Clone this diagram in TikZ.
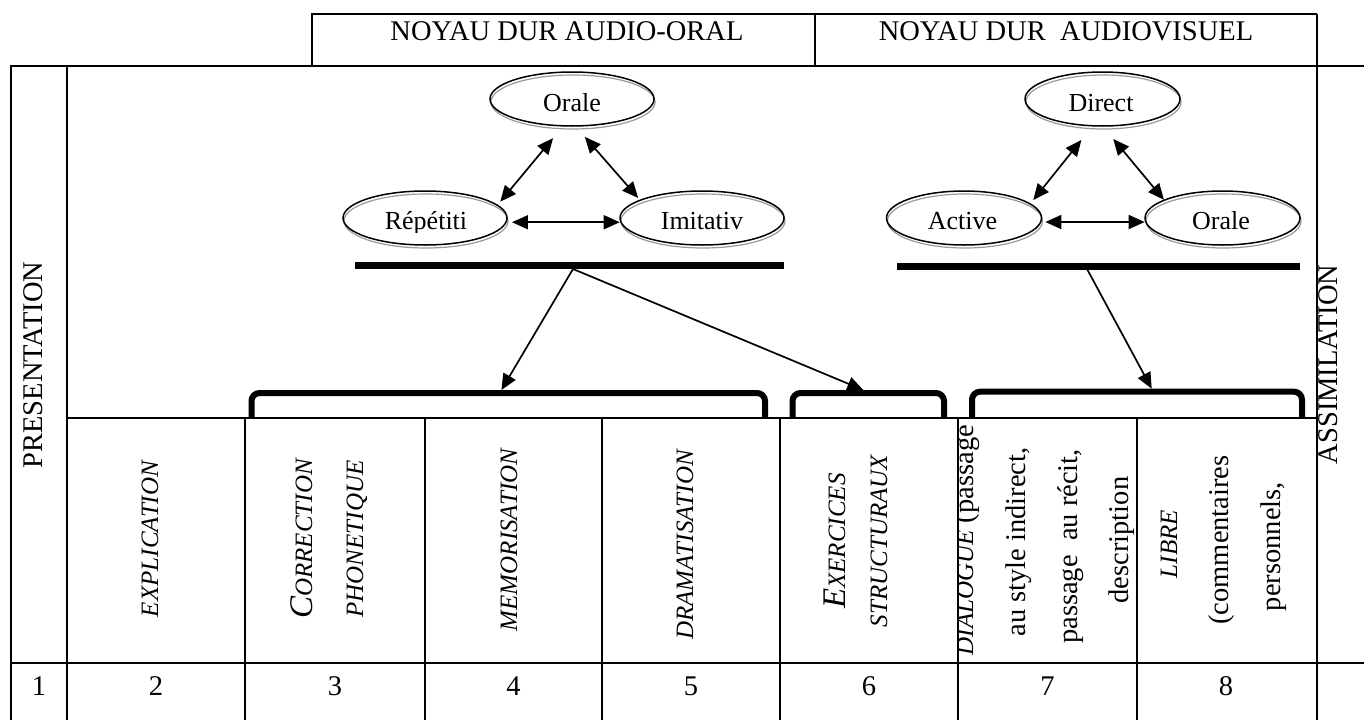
\documentclass[tikz,border=0pt]{standalone}
\usepackage{fontspec}
\setmainfont{Liberation Serif}
\usetikzlibrary{shapes.geometric,arrows.meta}
\newcommand\fmain{\fontsize{28.5}{30}\selectfont}
\newcommand\fell{\fontsize{26}{28}\selectfont}
\newcommand\fsc{\fontsize{25}{26}\selectfont}
\newcommand\fbig{\fontsize{33}{34}\selectfont}
\begin{document}
\begin{tikzpicture}[x=1pt,y=-1pt,
  every node/.style={inner sep=0pt, outer sep=0pt, font=\fmain},
  tbl/.style={line width=2pt},
  ell/.style={ellipse, draw, line width=1.5pt, minimum height=54pt},
  ellshadow/.style={draw=black!40, line width=1.2pt},
  biarr/.style={line width=1.7pt, {Triangle[length=16pt,width=14pt]}-{Triangle[length=16pt,width=14pt]}},
  onearr/.style={line width=1.7pt, -{Triangle[length=16pt,width=14pt]}},
  bar/.style={line width=7pt},
  brk/.style={line width=6pt, rounded corners=8pt},
  rot/.style={rotate=90, anchor=base},
  lbl/.style={anchor=base, font=\fell},
  smcap/.style={font=\fsc\itshape}]
\useasboundingbox (0,0) rectangle (1364,720);

% ---------- table ----------
\draw[tbl] (312,66) -- (312,14) -- (1317,14);
\draw[tbl] (815,14) -- (815,66);
\draw[tbl] (11,720) -- (11,66) -- (1364,66);
\draw[tbl] (67,66) -- (67,720);
\draw[tbl] (1317,14) -- (1317,720);
\draw[tbl] (67,417.5) -- (1317,417.5);
\draw[tbl] (11,663) -- (1364,663);
\foreach \x in {245,425,602,780,958,1137} \draw[tbl] (\x,417.5) -- (\x,720);

% ---------- header ----------
\node[anchor=base] (hAO) at (567,40) {NOYAU DUR AUDIO-ORAL};
\node[anchor=base] (hAV) at (1066,40) {NOYAU DUR~~AUDIOVISUEL};

% ---------- side labels ----------
\node[rot] (pres) at (42,365) {PRESENTATION};
\node[rot] (assim) at (1337,364.5) {ASSIMILATION};

% ---------- ellipses ----------
\draw[ellshadow] (573,102) ellipse [x radius=82, y radius=27];
\draw[ellshadow] (426,221) ellipse [x radius=82, y radius=27];
\draw[ellshadow] (703,221) ellipse [x radius=82, y radius=27];
\draw[ellshadow] (1103.5,102) ellipse [x radius=77.5, y radius=27];
\draw[ellshadow] (965,221) ellipse [x radius=77.5, y radius=27];
\draw[ellshadow] (1223.5,221) ellipse [x radius=77.5, y radius=27];

\node[ell, minimum width=164pt] (oAO) at (572,99) {};
\node[ell, minimum width=164pt] (rep) at (425,218) {};
\node[ell, minimum width=164pt] (imi) at (702,218) {};
\node[ell, minimum width=155pt] (dir) at (1102.5,99) {};
\node[ell, minimum width=155pt] (act) at (964,218) {};
\node[ell, minimum width=155pt] (oAV) at (1222.5,218) {};

\begin{scope}
  \clip (300,60) rectangle (1320,232);
  \node[lbl] (tOAO) at (572,111.7) {Orale};
  \node[lbl] (tRep) at (426,229.5) {Répétiti};
  \node[lbl] (tImi) at (702,229.5) {Imitativ};
  \node[lbl] (tDir) at (1101,111.7) {Direct};
  \node[lbl] (tAct) at (962.5,229.5) {Active};
  \node[lbl] (tOAV) at (1221,229.5) {Orale};
\end{scope}

% ---------- triangle arrows ----------
\draw[biarr, shorten <=16pt, shorten >=4.6pt] (oAO.252.3) -- (rep.10.8);
\draw[biarr, shorten <=14.5pt, shorten >=3pt] (oAO.277.6) -- (imi.164.5);
\draw[biarr, shorten <=6pt, shorten >=1.3pt] (rep.-3.3) -- (imi.183.3);
\draw[biarr, shorten <=18.2pt, shorten >=5pt] (dir.250.7) -- (act.12);
\draw[biarr, shorten <=16.8pt, shorten >=0.5pt] (dir.270.3) -- (oAV.163.4);
\draw[biarr, shorten <=4.7pt, shorten >=1.2pt] (act.-3.3) -- (oAV.183.3);

% ---------- bars ----------
\draw[bar] (355,265.5) -- (783.5,265.5);
\draw[bar] (897,266) -- (1300,266);

% ---------- brackets ----------
\draw[brk] (251.5,418) -- (251.5,393) -- (765,393) -- (765,418);
\draw[brk] (792.5,418) -- (792.5,393) -- (944,393) -- (944,418);
\draw[brk] (972,418) -- (972,391.7) -- (1302,391.7) -- (1302,418);

% ---------- bar to bracket arrows ----------
\coordinate (srcL) at (573,269);
\coordinate (srcR) at (1087,269);
\coordinate (tipA) at (501.4,390);
\coordinate (tipB) at (863.3,390);
\coordinate (tipC) at (1151.7,388.7);
\draw[onearr] (srcL) -- (tipA);
\draw[onearr] (srcL) -- (tipB);
\draw[onearr] (srcR) -- (tipC);

% ---------- cell labels ----------
\node[rot, smcap] (c2) at (158,539) {EXPLICATION};
\node[rot, font=\itshape] (c3a) at (312,539) {{\fbig C}{\fsc ORRECTION}};
\node[rot, smcap] (c3b) at (363,539) {PHONETIQUE};
\node[rot, smcap] (c4) at (517,540) {MEMORISATION};
\node[rot, smcap] (c5) at (693,545) {DRAMATISATION};
\node[rot, font=\itshape] (c6a) at (845,541) {{\fbig E}{\fsc XERCICES}};
\node[rot, smcap] (c6b) at (887,541) {STRUCTURAUX};

\begin{scope}
  \clip (958,417.5) rectangle (1137,663);
  \node[rot] (c7a) at (973,540) {{\fsc\itshape DIALOGUE} (passage};
  \node[rot] (c7b) at (1025,542) {au style indirect,};
  \node[rot] (c7c) at (1077,546.5) {passage~~au récit,};
  \node[rot] (c7d) at (1128,540) {description};
\end{scope}

\node[rot, smcap] (c8a) at (1177,544) {LIBRE};
\node[rot] (c8b) at (1228,540) {(commentaires};
\node[rot] (c8c) at (1280,546.5) {personnels,};

% ---------- numbers ----------
\node[anchor=base] (n1) at (39,695) {1};
\node[anchor=base] (n2) at (156,695) {2};
\node[anchor=base] (n3) at (335,695) {3};
\node[anchor=base] (n4) at (513.5,695) {4};
\node[anchor=base] (n5) at (691,695) {5};
\node[anchor=base] (n6) at (869,695) {6};
\node[anchor=base] (n7) at (1047.5,695) {7};
\node[anchor=base] (n8) at (1226,695) {8};
\end{tikzpicture}
\end{document}
